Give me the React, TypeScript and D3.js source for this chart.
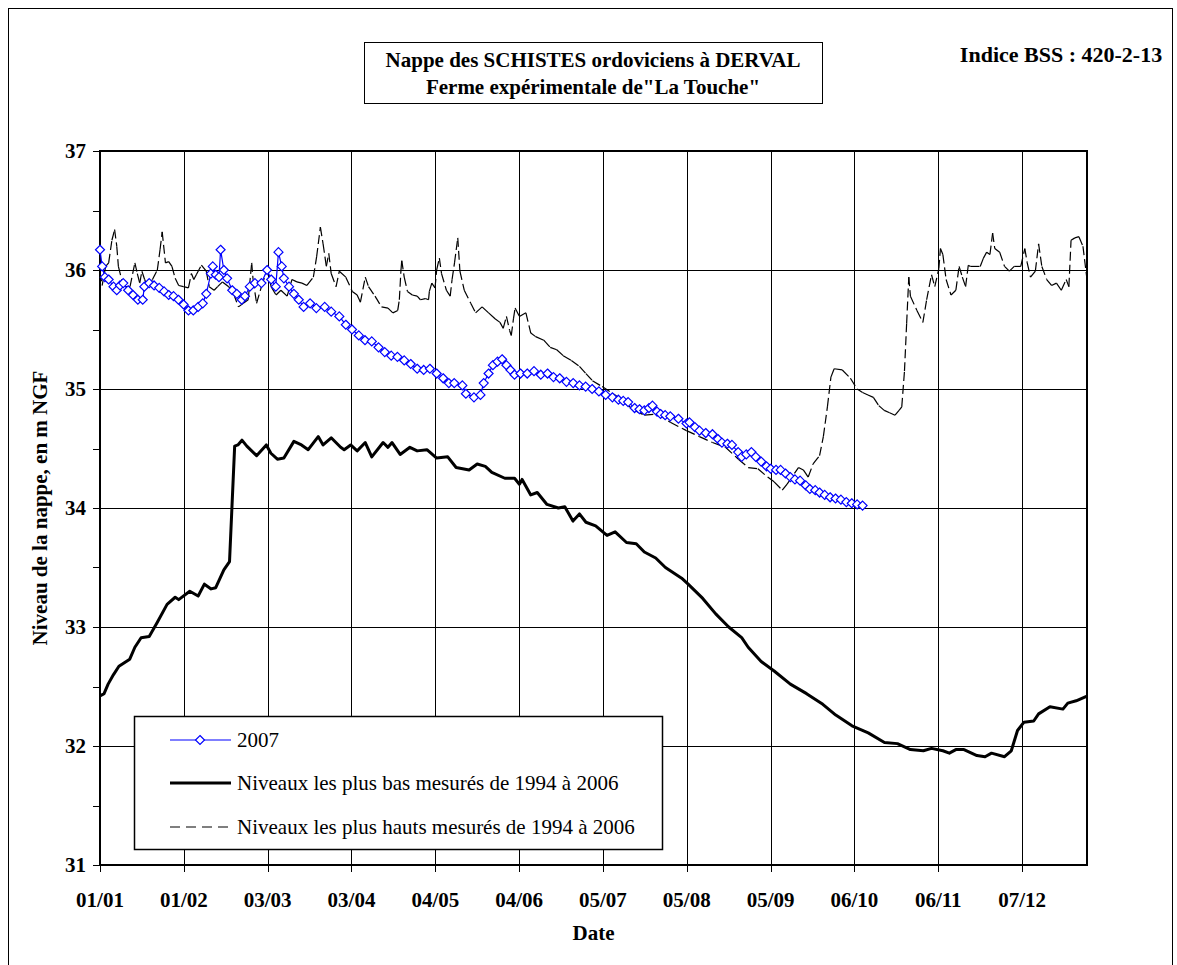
import React, { useEffect, useRef } from "react";
import * as d3 from "d3";

// x axis: day of year (leap year, as in the Excel date axis), ticks every 31 days
const tickDays = [0, 31, 62, 93, 124, 155, 186, 217, 248, 279, 310, 341];
const tickLabels = ["01/01", "01/02", "03/03", "03/04", "04/05", "04/06", "05/07", "05/08", "05/09", "06/10", "06/11", "07/12"];
const yTicks = [31, 32, 33, 34, 35, 36, 37];

// 2007 measurements
const days2007 = [0, 0.8, 1.8, 3.2, 5, 6.2, 7.4, 8.6, 10.4, 12.2, 14, 15.8, 16.4, 18.2, 20, 21.9, 23.7, 25.4, 27.2, 29, 30.9, 32.7, 34.5, 36.3, 38, 39.3, 41, 41.7, 42.8, 44, 44.6, 45.8, 47, 48.9, 50.6, 52.4, 53.6, 55.4, 57.3, 59.7, 61.8, 63.3, 65, 66, 67.2, 68, 69.9, 71.7, 73.5, 75.3, 77.7, 80, 83.1, 85.5, 88.5, 90.9, 93.2, 95.7, 98, 100.5, 103, 105.3, 107.7, 110, 112.5, 114.9, 117.3, 119.7, 122, 124.5, 126.9, 129, 131, 134, 135.3, 138.3, 140.7, 141.9, 143.7, 145.3, 147, 148.7, 150.3, 151.8, 153.3, 155.5, 158, 160.5, 163, 165.5, 167.7, 170, 172.5, 175, 177.3, 179.6, 182, 184.5, 187, 189.5, 191.7, 193.5, 195.3, 197.7, 199.5, 201.3, 203, 204.3, 206, 207.3, 209, 210.9, 213.9, 216.9, 218, 220, 221.7, 224, 226.5, 228.5, 230, 232, 233.7, 236, 237.3, 239, 240.9, 242.5, 244.5, 246.5, 248, 250, 251.7, 253.5, 255.3, 257, 258.9, 261, 262.5, 264.5, 266.1, 268, 270, 272, 274, 276, 278, 280, 282];
const values2007 = [36.17, 36.03, 35.94, 35.92, 35.86, 35.83, 35.87, 35.89, 35.83, 35.79, 35.75, 35.75, 35.86, 35.89, 35.87, 35.85, 35.82, 35.79, 35.78, 35.75, 35.71, 35.66, 35.66, 35.69, 35.72, 35.8, 35.97, 36.03, 35.96, 35.94, 36.17, 36.0, 35.93, 35.83, 35.8, 35.75, 35.78, 35.86, 35.89, 35.89, 36.0, 35.92, 35.86, 36.15, 36.03, 35.93, 35.86, 35.8, 35.75, 35.69, 35.72, 35.68, 35.69, 35.65, 35.61, 35.54, 35.5, 35.45, 35.41, 35.4, 35.35, 35.31, 35.28, 35.27, 35.24, 35.21, 35.17, 35.16, 35.17, 35.13, 35.09, 35.05, 35.05, 35.03, 34.96, 34.93, 34.95, 35.05, 35.13, 35.2, 35.23, 35.25, 35.2, 35.16, 35.12, 35.13, 35.13, 35.15, 35.12, 35.13, 35.1, 35.09, 35.06, 35.05, 35.03, 35.02, 35.0, 34.98, 34.95, 34.93, 34.91, 34.9, 34.89, 34.84, 34.83, 34.82, 34.84, 34.86, 34.81, 34.79, 34.78, 34.77, 34.75, 34.71, 34.72, 34.68, 34.65, 34.63, 34.62, 34.58, 34.55, 34.54, 34.53, 34.47, 34.43, 34.45, 34.47, 34.43, 34.39, 34.35, 34.33, 34.32, 34.32, 34.29, 34.26, 34.24, 34.23, 34.19, 34.16, 34.15, 34.13, 34.11, 34.09, 34.08, 34.07, 34.05, 34.04, 34.03, 34.02];

// lowest levels 1994-2006
const lowDays = [0, 1.5, 3, 5, 7, 9, 11, 12.9, 15.2, 18.2, 21.2, 24.8, 27.8, 29.1, 33.2, 36.3, 38.6, 41.1, 42.8, 45.8, 47.9, 49.8, 51, 52.5, 54.3, 57.9, 61.5, 63.2, 65.6, 68, 71.7, 74.5, 77, 80.7, 82.5, 85.5, 89, 90.3, 92.7, 95.1, 98.1, 100.5, 104.7, 106.5, 108, 111, 114.6, 117.3, 120.9, 124.5, 128.6, 131.7, 136.5, 139.5, 142.5, 144.9, 149.7, 153.3, 155.1, 156.1, 159.3, 161.7, 165.3, 169.5, 171.9, 174.9, 177.3, 179.7, 183.3, 187.5, 190.5, 194.7, 198.3, 201.3, 205.5, 209.1, 215.1, 217.5, 222.9, 227.7, 232.5, 237.3, 239.7, 244.5, 249.3, 255.3, 261.3, 267.3, 272.1, 278.1, 284.1, 290.1, 294.9, 299.7, 304.5, 307.5, 311.7, 314.1, 316.5, 319.5, 324.3, 327.3, 329.7, 334.5, 337, 339.3, 341.7, 345.3, 347.1, 351.3, 356.1, 357.9, 361, 365];
const lowValues = [32.42, 32.44, 32.52, 32.6, 32.67, 32.7, 32.73, 32.83, 32.91, 32.92, 33.04, 33.19, 33.25, 33.23, 33.3, 33.26, 33.36, 33.32, 33.33, 33.48, 33.55, 34.52, 34.53, 34.57, 34.52, 34.44, 34.53, 34.46, 34.41, 34.42, 34.56, 34.53, 34.49, 34.6, 34.53, 34.59, 34.51, 34.49, 34.53, 34.48, 34.55, 34.43, 34.55, 34.51, 34.55, 34.45, 34.51, 34.48, 34.49, 34.42, 34.43, 34.34, 34.32, 34.37, 34.35, 34.3, 34.25, 34.25, 34.2, 34.24, 34.11, 34.13, 34.03, 34.0, 34.01, 33.89, 33.95, 33.88, 33.85, 33.77, 33.8, 33.71, 33.7, 33.63, 33.58, 33.5, 33.41, 33.36, 33.24, 33.11, 33.0, 32.91, 32.83, 32.71, 32.63, 32.52, 32.44, 32.35, 32.26, 32.17, 32.11, 32.03, 32.02, 31.97, 31.96, 31.98, 31.96, 31.94, 31.97, 31.97, 31.92, 31.91, 31.94, 31.91, 31.96, 32.13, 32.2, 32.21, 32.27, 32.33, 32.31, 32.36, 32.38, 32.42];

// highest levels 1994-2006
const highDays = [0, 0.8, 2.1, 3.2, 4.4, 5.4, 6.2, 6.8, 8, 9.3, 11.1, 12.9, 13.8, 14.7, 15.5, 16.5, 17.6, 19.4, 21.2, 22.2, 23, 24.2, 25.4, 26.6, 27.8, 29.1, 30.9, 32.7, 33.8, 34.7, 35.6, 37.5, 39.3, 40.4, 42.2, 43.5, 45.3, 47.6, 49.4, 51.2, 53, 54.8, 56.1, 56.6, 57.9, 59.7, 61.8, 63.3, 65.1, 66.9, 69.2, 71, 72.8, 74.7, 76.5, 78.9, 80.1, 81.5, 82.5, 83.7, 84.6, 85.5, 87.3, 88.5, 90.9, 93.3, 95.1, 96.3, 98.1, 99.3, 101.7, 104.1, 106.5, 108.3, 110.1, 110.7, 111.3, 111.6, 112.5, 113.7, 115.5, 117.3, 118.5, 120.3, 121.5, 121.8, 122.7, 123.9, 124.5, 125.5, 126.3, 128.1, 129.5, 130.2, 131.1, 132.3, 133.1, 134.7, 137.1, 138.9, 141.3, 143.7, 146.1, 147.9, 149.1, 150.3, 151.5, 152.1, 152.9, 153.5, 155.1, 157.5, 159.3, 161.1, 164.1, 166.5, 168.9, 171.3, 174.3, 177.3, 179.7, 182.1, 185.7, 190.5, 194.1, 197.7, 201.3, 206.1, 210.9, 216.9, 221.7, 226.5, 231.3, 236.1, 239.7, 243.3, 246.9, 249.3, 252.3, 254.1, 258.3, 260.1, 261.9, 263.7, 266.1, 267.5, 269, 270.3, 271.5, 274.5, 277.5, 280, 282, 284, 286, 288, 290, 292, 294, 295.5, 296.5, 297.5, 298.3, 299.1, 299.7, 302.1, 304.3, 305.7, 307.5, 308.7, 310.2, 310.8, 311.7, 312.9, 314.7, 316.5, 317.7, 318.9, 320.1, 321.1, 321.9, 325.5, 326.7, 327.9, 329.1, 330.1, 330.9, 332.7, 334.5, 336.3, 338.1, 340.5, 342, 342.9, 344.1, 345.9, 347.1, 348.3, 350.1, 351.9, 353.7, 355.5, 357.3, 358.3, 359.1, 360.5, 362, 363.5, 365];
const highValues = [35.98, 35.87, 36.03, 36.06, 36.25, 36.34, 36.2, 36.03, 35.92, 35.86, 35.86, 36.06, 35.97, 35.89, 35.99, 35.92, 35.86, 35.92, 36.0, 36.17, 36.32, 36.06, 36.07, 36.03, 35.93, 35.87, 35.86, 35.85, 35.97, 35.92, 35.96, 36.04, 35.99, 35.86, 35.83, 35.86, 35.9, 35.86, 35.8, 35.69, 35.72, 35.75, 36.06, 35.92, 35.72, 35.86, 36.0, 35.86, 35.79, 35.83, 35.78, 35.92, 35.9, 35.89, 35.87, 35.94, 36.11, 36.36, 36.22, 36.03, 36.14, 35.97, 35.86, 35.99, 35.94, 35.82, 35.79, 35.73, 35.94, 35.86, 35.78, 35.69, 35.68, 35.64, 35.66, 35.75, 36.0, 36.08, 35.94, 35.82, 35.79, 35.78, 35.75, 35.76, 35.75, 35.82, 35.89, 35.85, 36.0, 36.1, 35.97, 35.83, 35.78, 35.92, 36.06, 36.27, 35.99, 35.83, 35.72, 35.64, 35.69, 35.64, 35.59, 35.56, 35.51, 35.61, 35.49, 35.45, 35.59, 35.68, 35.61, 35.64, 35.47, 35.44, 35.41, 35.35, 35.33, 35.28, 35.24, 35.19, 35.13, 35.07, 35.02, 34.95, 34.88, 34.82, 34.78, 34.79, 34.72, 34.65, 34.6, 34.55, 34.51, 34.41, 34.34, 34.33, 34.26, 34.22, 34.15, 34.2, 34.34, 34.32, 34.26, 34.37, 34.44, 34.6, 34.85, 35.1, 35.17, 35.16, 35.09, 35.0, 34.97, 34.95, 34.93, 34.86, 34.82, 34.8, 34.78, 34.82, 34.85, 35.15, 35.55, 35.94, 35.78, 35.66, 35.56, 35.75, 35.96, 35.86, 36.01, 36.18, 36.13, 35.92, 35.79, 35.83, 36.03, 35.94, 35.86, 36.04, 36.03, 36.03, 36.1, 36.15, 36.13, 36.31, 36.18, 36.15, 36.03, 35.99, 36.03, 36.03, 36.18, 36.06, 35.94, 35.99, 36.22, 36.03, 35.92, 35.87, 35.89, 35.83, 35.92, 35.86, 36.25, 36.27, 36.28, 36.2, 35.92];

const legendLabels = ["2007", "Niveaux les plus bas mesurés de 1994 à 2006", "Niveaux les plus hauts mesurés de 1994 à 2006"];

const FONT = "'Liberation Serif', 'Times New Roman', serif";

export default function App() {
  const ref = useRef(null);

  useEffect(() => {
    var svg = d3.select(ref.current);
    svg.selectAll("*").remove();

    var left = 100, right = 1087, top = 151, bottom = 865;

    var x = d3.scaleLinear().domain([0, 365]).range([left, right]);
    var y = d3.scaleLinear().domain([31, 37]).range([bottom, top]);

    // outer frame
    svg.append("rect").attr("x", 8.5).attr("y", 8.5).attr("width", 1164).attr("height", 1000)
      .attr("fill", "white").attr("stroke", "#000").attr("stroke-width", 1);

    // title box
    svg.append("rect").attr("x", 364.5).attr("y", 42.5).attr("width", 458).attr("height", 61)
      .attr("fill", "white").attr("stroke", "#000").attr("stroke-width", 1);
    var title = svg.append("text").attr("font-family", FONT).attr("font-weight", "bold")
      .attr("font-size", 21).attr("text-anchor", "middle");
    title.append("tspan").attr("x", 593).attr("y", 67).text("Nappe des SCHISTES ordoviciens à DERVAL");
    title.append("tspan").attr("x", 593).attr("y", 94).text('Ferme expérimentale de"La Touche"');

    svg.append("text").attr("x", 1061).attr("y", 62).attr("text-anchor", "middle")
      .attr("font-family", FONT).attr("font-weight", "bold").attr("font-size", 22)
      .text("Indice BSS : 420-2-13");

    var g = svg.append("g");

    // gridlines
    g.selectAll(".hgrid").data(yTicks).join("line").attr("class", "hgrid")
      .attr("x1", left).attr("x2", right)
      .attr("y1", (d) => Math.round(y(d)) + 0.5).attr("y2", (d) => Math.round(y(d)) + 0.5)
      .attr("stroke", "#000").attr("stroke-width", 1);
    g.selectAll(".vgrid").data(tickDays).join("line").attr("class", "vgrid")
      .attr("x1", (d) => Math.round(x(d)) + 0.5).attr("x2", (d) => Math.round(x(d)) + 0.5)
      .attr("y1", top).attr("y2", bottom + 7)
      .attr("stroke", "#000").attr("stroke-width", 1);

    // y ticks (major + half units)
    var yMinor = d3.range(31, 37.01, 0.5);
    g.selectAll(".ytick").data(yMinor).join("line").attr("class", "ytick")
      .attr("x1", left - 7).attr("x2", left)
      .attr("y1", (d) => Math.round(y(d)) + 0.5).attr("y2", (d) => Math.round(y(d)) + 0.5)
      .attr("stroke", "#000");

    // plot border
    g.append("rect").attr("x", left).attr("y", top).attr("width", right - left).attr("height", bottom - top)
      .attr("fill", "none").attr("stroke", "#000").attr("stroke-width", 2);

    // tick labels
    g.selectAll(".ylab").data(yTicks).join("text").attr("class", "ylab")
      .attr("x", 86).attr("y", (d) => y(d) + 7).attr("text-anchor", "end")
      .attr("font-family", FONT).attr("font-weight", "bold").attr("font-size", 21)
      .text((d) => d);
    g.selectAll(".xlab").data(tickDays).join("text").attr("class", "xlab")
      .attr("x", (d) => x(d)).attr("y", 907).attr("text-anchor", "middle")
      .attr("font-family", FONT).attr("font-weight", "bold").attr("font-size", 21)
      .text((d, i) => tickLabels[i]);

    // axis titles
    svg.append("text").attr("x", (left + right) / 2).attr("y", 940).attr("text-anchor", "middle")
      .attr("font-family", FONT).attr("font-weight", "bold").attr("font-size", 21).text("Date");
    svg.append("text").attr("transform", "translate(47," + (top + bottom) / 2 + ") rotate(-90)")
      .attr("text-anchor", "middle").attr("font-family", FONT).attr("font-weight", "bold")
      .attr("font-size", 21).text("Niveau de la nappe, en m NGF");

    // high levels: Excel restarts the dash on every segment
    var highPts = highDays.map((d, i) => [x(d), y(highValues[i])]);
    var segs = d3.pairs(highPts);
    g.selectAll(".hseg").data(segs).join("line").attr("class", "hseg")
      .attr("x1", (d) => d[0][0]).attr("y1", (d) => d[0][1])
      .attr("x2", (d) => d[1][0]).attr("y2", (d) => d[1][1])
      .attr("stroke", "#000").attr("stroke-width", 1.2).attr("stroke-dasharray", "9,4");

    // low levels
    var line = d3.line().x((d) => x(d[0])).y((d) => y(d[1]));
    g.append("path").datum(lowDays.map((d, i) => [d, lowValues[i]]))
      .attr("d", line).attr("fill", "none").attr("stroke", "#000").attr("stroke-width", 3)
      .attr("stroke-linejoin", "round");

    // 2007
    var pts2007 = days2007.map((d, i) => [d, values2007[i]]);
    g.append("path").datum(pts2007).attr("d", line).attr("fill", "none")
      .attr("stroke", "#0000ff").attr("stroke-width", 1.2);
    var diamond = "M0,-4.5L4.5,0L0,4.5L-4.5,0Z";
    g.selectAll(".mk").data(pts2007).join("path").attr("class", "mk")
      .attr("transform", (d) => `translate(${x(d[0])},${y(d[1])})`)
      .attr("d", diamond).attr("fill", "white").attr("stroke", "#0000ff").attr("stroke-width", 1.2);

    // legend
    var lg = svg.append("g");
    lg.append("rect").attr("x", 134.5).attr("y", 716.5).attr("width", 528).attr("height", 133)
      .attr("fill", "white").attr("stroke", "#000").attr("stroke-width", 1.5);
    var ly = [740, 783, 827];
    lg.append("line").attr("x1", 170).attr("x2", 231).attr("y1", ly[0]).attr("y2", ly[0])
      .attr("stroke", "#0000ff").attr("stroke-width", 1.2);
    lg.append("path").attr("transform", `translate(200,${ly[0]})`).attr("d", diamond)
      .attr("fill", "white").attr("stroke", "#0000ff").attr("stroke-width", 1.2);
    lg.append("line").attr("x1", 170).attr("x2", 231).attr("y1", ly[1]).attr("y2", ly[1])
      .attr("stroke", "#000").attr("stroke-width", 3);
    lg.append("line").attr("x1", 170).attr("x2", 231).attr("y1", ly[2]).attr("y2", ly[2])
      .attr("stroke", "#000").attr("stroke-width", 1.2).attr("stroke-dasharray", "10,6");
    lg.selectAll(".ltxt").data(legendLabels).join("text").attr("class", "ltxt")
      .attr("x", 237).attr("y", (d, i) => ly[i] + 7)
      .attr("font-family", FONT).attr("font-size", 21).text((d) => d);
  }, []);

  return (
    <div style={{ position: "absolute", left: 0, top: 0 }}>
      <svg ref={ref} width={1177} height={965} style={{ display: "block", background: "white" }}></svg>
    </div>
  );
}
